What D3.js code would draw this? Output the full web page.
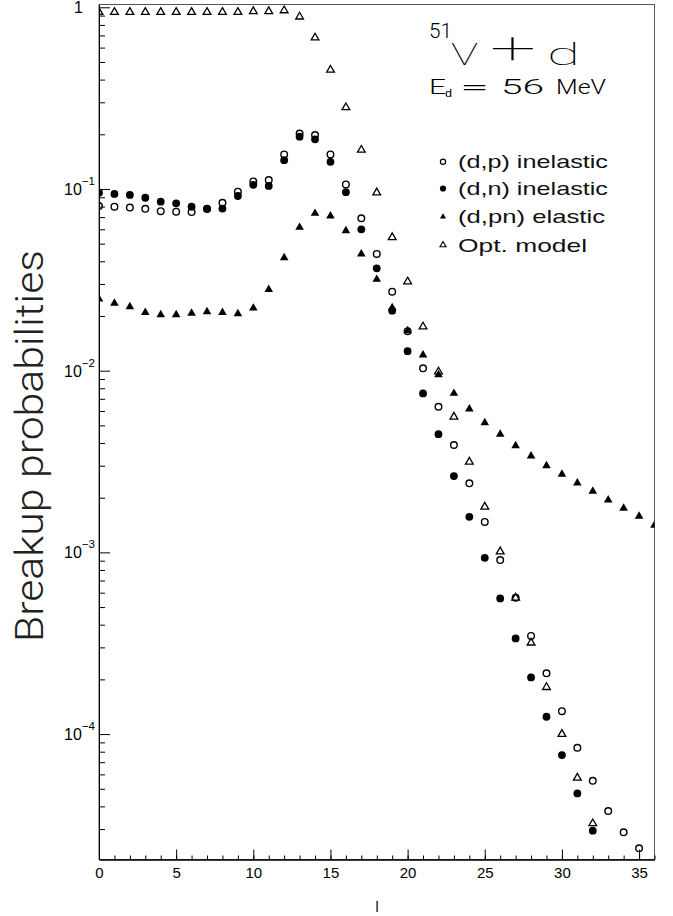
<!DOCTYPE html>
<html lang="en">
<head>
<meta charset="utf-8"/>
<script src="https://d3js.org/d3.v7.min.js"></script>
<title>Breakup probabilities</title>
<style>
  body { margin: 0; background: #fff; }
  svg text { font-family: "Liberation Sans", Arial, Helvetica, sans-serif; fill: #000; }
  svg text.thin { font-family: "Roboto", "Open Sans", sans-serif; font-weight: 300; }
  svg text.hair { font-family: "Roboto", "Open Sans", sans-serif; font-weight: 100; }
</style>
</head>
<body>
<svg id="chart"></svg>
<script>
  // breakup probabilities vs. l, index = l
  const dpInelastic = [0.0806, 0.0799, 0.079, 0.0778, 0.0755, 0.075, 0.0746, 0.0775, 0.084, 0.0967,
    0.110, 0.112, 0.155, 0.202, 0.198, 0.155, 0.106, 0.069, 0.0439, 0.0272,
    0.0165, 0.0103, 0.00633, 0.0039, 0.0024, 0.00147, 9.07e-4, 5.62e-4, 3.47e-4, 2.16e-4,
    1.337e-4, 8.41e-5, 5.53e-5, 3.77e-5, 2.88e-5, 2.35e-5];
  const dnInelastic = [0.0954, 0.0939, 0.0928, 0.0895, 0.0851, 0.0834, 0.0799, 0.078, 0.078, 0.0915,
    0.1054, 0.104, 0.144, 0.194, 0.1876, 0.141, 0.096, 0.060, 0.0366, 0.0214,
    0.0128, 0.0075, 0.00447, 0.00263, 0.00157, 9.33e-4, 5.58e-4, 3.36e-4, 2.05e-4, 1.245e-4,
    7.66e-5, 4.71e-5, 2.94e-5];
  const dpnElastic = [0.0248, 0.0235, 0.0225, 0.0209, 0.0203, 0.0203, 0.0207, 0.0211, 0.0209, 0.0206,
    0.0221, 0.028, 0.0418, 0.0615, 0.0734, 0.071, 0.0589, 0.0439, 0.0318, 0.0222,
    0.0166, 0.0122, 0.0095, 0.0075, 0.00615, 0.00517, 0.00447, 0.00386, 0.00339, 0.0030,
    0.00269, 0.00241, 0.00217, 0.00194, 0.00175, 0.00158, 0.00141];
  const optModel = [0.94, 0.94, 0.94, 0.94, 0.94, 0.94, 0.94, 0.94, 0.94, 0.94,
    0.95, 0.95, 0.96, 0.887, 0.68, 0.452, 0.281, 0.164, 0.0955, 0.0542,
    0.0309, 0.01746, 0.00987, 0.00557, 0.00315, 0.00178, 0.00101, 5.62e-4, 3.18e-4, 1.81e-4,
    1.0e-4, 5.74e-5, 3.22e-5];

  const legendLabels = ["(d,p) inelastic", "(d,n) inelastic", "(d,pn) elastic", "Opt. model"];
  const xMajorTicks = [0, 5, 10, 15, 20, 25, 30, 35];
  const yDecades = [0, -1, -2, -3, -4];

  const W = 673, H = 916;
  const margin = {top: 4.5, right: 18.5, bottom: 56.5, left: 99},
      width = W - margin.left - margin.right,
      height = H - margin.top - margin.bottom;

  const svg = d3.select("#chart")
      .attr("width", W)
      .attr("height", H);

  const g = svg.append("g")
      .attr("transform", "translate(" + margin.left + "," + margin.top + ")");

  const x = d3.scaleLinear().domain([0, 36]).range([0, width]);
  const y = d3.scaleLog().domain([2.04e-5, 1.036]).range([height, 0]);

  // frame
  g.append("rect")
      .attr("width", width)
      .attr("height", height)
      .attr("fill", "none")
      .attr("stroke", "#555")
      .attr("stroke-width", 1);

  g.append("clipPath").attr("id", "plotclip")
    .append("rect")
      .attr("width", width)
      .attr("height", height + 10)
      .attr("y", -10);

  // minor y ticks 2..9 x 10^e
  const yMinor = [];
  for (let e = -5; e <= 0; e++) {
    for (let k = 2; k <= 9; k++) {
      const v = k * Math.pow(10, e);
      if (v >= y.domain()[0] && v <= y.domain()[1]) yMinor.push(v);
    }
  }

  const yMinorG = g.append("g")
      .call(d3.axisLeft(y).tickValues(yMinor).tickSize(-6).tickSizeOuter(0).tickFormat(""));
  const yMajorG = g.append("g")
      .call(d3.axisLeft(y).tickValues(yDecades.map(e => Math.pow(10, e)))
        .tickSize(-11).tickSizeOuter(0).tickPadding(4).tickFormat(""));

  yMajorG.selectAll(".tick text").each(function(d) {
    const e = Math.round(Math.log10(d));
    const t = d3.select(this).attr("font-size", 16).attr("dy", "0.34em");
    if (e === 0) {
      t.attr("x", -16).text("1");
    } else {
      t.attr("x", -4);
      t.append("tspan").text("10");
      t.append("tspan").attr("dy", -10).attr("font-size", 11.5).text("\u2212" + (-e));
    }
  });

  const xMinorG = g.append("g")
      .attr("transform", "translate(0," + height + ")")
      .call(d3.axisBottom(x).tickValues(d3.range(0, 37)).tickSize(-4).tickSizeOuter(0).tickFormat(""));
  const xMajorG = g.append("g")
      .attr("transform", "translate(0," + height + ")")
      .call(d3.axisBottom(x).tickValues(xMajorTicks).tickSize(-10).tickSizeOuter(0)
        .tickPadding(8).tickFormat(d3.format("d")));
  xMajorG.selectAll(".tick text").attr("font-size", 15);

  [yMinorG, yMajorG, xMinorG, xMajorG].forEach(a => {
    a.selectAll("path, line").attr("stroke", "#000").attr("stroke-width", 1);
  });

  // markers
  const tri = d3.symbol().type(d3.symbolTriangle);
  const toPts = arr => arr.map((v, i) => ({l: i, v: v}));

  const marks = g.append("g").attr("clip-path", "url(#plotclip)");

  marks.selectAll(".dp")
    .data(toPts(dpInelastic))
    .enter()
    .append("circle")
      .attr("class", "dp")
      .attr("cx", d => x(d.l))
      .attr("cy", d => y(d.v))
      .attr("r", 3.3)
      .attr("fill", "none")
      .attr("stroke", "#000")
      .attr("stroke-width", 1.4);

  marks.selectAll(".dn")
    .data(toPts(dnInelastic))
    .enter()
    .append("circle")
      .attr("class", "dn")
      .attr("cx", d => x(d.l))
      .attr("cy", d => y(d.v))
      .attr("r", 3.9)
      .attr("fill", "#000");

  marks.selectAll(".dpn")
    .data(toPts(dpnElastic))
    .enter()
    .append("path")
      .attr("class", "dpn")
      .attr("transform", d => "translate(" + x(d.l) + "," + y(d.v) + ")")
      .attr("d", tri.size(32)())
      .attr("fill", "#000");

  marks.selectAll(".opt")
    .data(toPts(optModel))
    .enter()
    .append("path")
      .attr("class", "opt")
      .attr("transform", d => "translate(" + x(d.l) + "," + y(d.v) + ")")
      .attr("d", tri.size(26)())
      .attr("fill", "none")
      .attr("stroke", "#000")
      .attr("stroke-width", 1.3);

  // stretched text helper (the original font is wider than Helvetica)
  function label(px, py, str, size, len, cls) {
    return svg.append("text")
      .attr("class", cls || null)
      .attr("x", px).attr("y", py)
      .attr("font-size", size)
      .attr("textLength", len)
      .attr("lengthAdjust", "spacingAndGlyphs")
      .text(str);
  }

  // title
  label(429, 38, "51", 20, 23, "thin");
  label(451, 65, "V", 31, 27, "hair");
  label(490, 63, "+", 44, 46, "hair");
  label(547, 65, "d", 31, 33, "hair");

  label(429, 94, "E", 20, 17, "thin");
  label(445, 97, "d", 11, 7);
  label(460, 94, "=", 20, 29, "thin");
  label(501, 94, "56", 20, 43, "thin");
  label(556, 94, "MeV", 20, 50, "thin");

  // legend
  const legendY = [161.7, 188.5, 216.7, 245];
  const legendW = [150, 150, 147, 129];
  const legend = svg.append("g");
  legendLabels.forEach((lab, i) => {
    const cy = legendY[i];
    if (i === 0) {
      legend.append("circle").attr("cx", 443).attr("cy", cy).attr("r", 2.6)
        .attr("fill", "none").attr("stroke", "#000").attr("stroke-width", 1.2);
    } else if (i === 1) {
      legend.append("circle").attr("cx", 443).attr("cy", cy).attr("r", 3.1).attr("fill", "#000");
    } else {
      legend.append("path")
        .attr("transform", "translate(443," + cy + ")")
        .attr("d", tri.size(16)())
        .attr("fill", i === 2 ? "#000" : "none")
        .attr("stroke", i === 3 ? "#000" : "none")
        .attr("stroke-width", 1.1);
    }
    label(458, cy + 6.5, lab, 19, legendW[i]).style("fill", "#111");
  });

  // axis titles
  svg.append("text")
      .attr("class", "thin")
      .attr("transform", "translate(43,446) rotate(-90)")
      .attr("text-anchor", "middle")
      .attr("font-size", 39)
      .attr("textLength", 392)
      .attr("lengthAdjust", "spacingAndGlyphs")
      .style("fill", "#222")
      .text("Breakup probabilities");

  svg.append("text")
      .attr("x", 377).attr("y", 912)
      .attr("text-anchor", "middle")
      .attr("font-size", 14)
      .text("l");
</script>
</body>
</html>
